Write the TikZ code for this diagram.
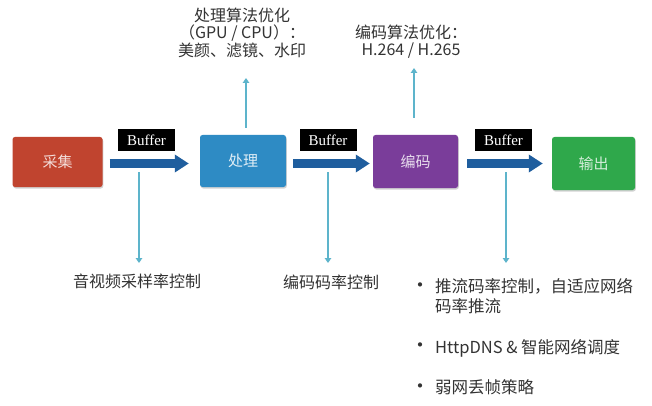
\documentclass[tikz,border=0pt]{standalone}
\usepackage{fontspec}
\setmainfont{Noto Sans CJK SC}
\newfontfamily\tms{Liberation Serif}
\usetikzlibrary{arrows.meta,shadows}
\definecolor{cred}{HTML}{C0442F}
\definecolor{cblue}{HTML}{2E8BC4}
\definecolor{cpurple}{HTML}{7A3D9A}
\definecolor{cgreen}{HTML}{2FA84B}
\definecolor{carrow}{HTML}{1F5E9E}
\definecolor{cthin}{HTML}{5DB4CB}
\definecolor{ctext}{HTML}{333333}
\newcommand{\blt}{\raisebox{0.5pt}{\fontsize{20}{20}\selectfont •}}
\tikzset{
  stagebox/.style={rounded corners=2.5pt, minimum width=#1, inner sep=0pt,
    drop shadow={opacity=0.35, shadow xshift=0.8pt, shadow yshift=-1.5pt},
    font=\fontsize{15}{16}\selectfont},
  buflabel/.style={fill=black, text=white, minimum width=57pt, minimum height=22pt,
    inner sep=0pt, font=\tms\fontsize{15}{16}\selectfont},
  fatarrow/.style={line width=9.5pt, color=carrow,
    -{Triangle[length=14pt,width=17pt]}},
  thinarrow/.style={line width=1.8pt, color=cthin,
    -{Triangle[length=5pt,width=6.5pt]}},
  note/.style={text=ctext, inner sep=0pt, align=center,
    font=\fontsize{16}{17.5}\selectfont}
}
\begin{document}
\begin{tikzpicture}[x=1pt,y=-1pt]
\useasboundingbox[fill=white] (0,0) rectangle (652,406);
% stages
\node[stagebox=90pt, minimum height=50pt, fill=cred, text=white!82!cred] (cai) at (57.5,162) {采集};
\node[stagebox=86pt, minimum height=52pt, fill=cblue, text=white!85!cblue] (chu) at (243,161) {处理};
\node[stagebox=85pt, minimum height=53pt, fill=cpurple, text=white!82!cpurple] (bian) at (415.5,161.5) {编码};
\node[stagebox=83pt, minimum height=53pt, fill=cgreen, text=white!80!cgreen] (shu) at (593.5,163.5) {输出};
% buffers
\node[buflabel] (b1) at (146.5,140) {Buffer};
\node[buflabel] (b2) at (328,140) {Buffer};
\node[buflabel] (b3) at (503.5,140) {Buffer};
% fat arrows
\draw[fatarrow, shorten <=7pt, shorten >=11pt] (cai.east |- 0,163.5) -- (chu.west |- 0,163.5);
\draw[fatarrow, shorten <=7pt, shorten >=3pt] (chu.east |- 0,163.5) -- (bian.west |- 0,163.5);
\draw[fatarrow, shorten <=9pt, shorten >=9pt] (bian.east |- 0,163.5) -- (shu.west |- 0,163.5);
% top notes
\node[note] (n1) at (242,32.5) {处理算法优化\\（GPU / CPU）：\\美颜、滤镜、水印};
\node[note] (n2) at (411,41.5) {编码算法优化：\\H.264 / H.265};
\coordinate (u1) at (246,78);
\coordinate (u2) at (414,68);
\draw[thinarrow] (u1 |- chu.north) ++(0,-7) -- (u1);
\draw[thinarrow] (u2 |- bian.north) ++(0,-17) -- (u2);
% bottom notes
\node[note, anchor=west] (t1) at (73,281) {音视频采样率控制};
\node[note, anchor=west] (t2) at (283,282) {编码码率控制};
\node[note, anchor=north west, align=left, font=\fontsize{16.5}{19}\selectfont] (list) at (410,278.5)
  {\begin{tabular}{@{}l@{\hspace{5pt}}l@{}}\blt&推流码率控制，自适应网络\\&码率推流\\[21pt]\blt&HttpDNS \& 智能网络调度\\[21pt]\blt&弱网丢帧策略\end{tabular}};
\coordinate (d1) at (139,172);
\coordinate (d2) at (328,172);
\coordinate (d3) at (506,172);
\coordinate (e1) at (139,263);
\coordinate (e2) at (328,263);
\coordinate (e3) at (506,263);
\draw[thinarrow] (d1) -- (e1);
\draw[thinarrow] (d2) -- (e2);
\draw[thinarrow] (d3) -- (e3);
\end{tikzpicture}
\end{document}
